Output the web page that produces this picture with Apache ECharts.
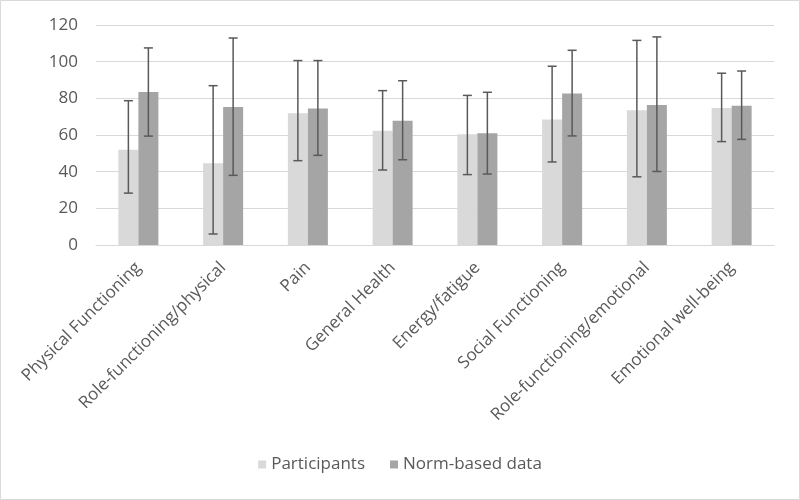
<!DOCTYPE html>
<html style="height: 100%">
    <head>
        <meta charset="utf-8">
    </head>
    <body style="height: 100%; margin: 0">
        <div id="container" style="width: 800px; height: 500px"></div>

        <script type="text/javascript" src="https://cdn.jsdelivr.net/npm/echarts@6/dist/echarts.min.js"></script>
        <script type="text/javascript">

var categories = ['Physical Functioning', 'Role-functioning/physical', 'Pain', 'General Health',
    'Energy/fatigue', 'Social Functioning', 'Role-functioning/emotional', 'Emotional well-being'];
var participantsMean = [52, 44.6, 71.8, 62.3, 60.4, 68.4, 73.5, 74.7];
var participantsLow = [28.3, 6, 46, 40.9, 38.4, 45.3, 37.2, 56.4];
var participantsHigh = [78.7, 86.9, 100.6, 84.2, 81.6, 97.5, 111.6, 93.7];
var normMean = [83.5, 75.3, 74.5, 67.8, 60.9, 82.7, 76.4, 76];
var normLow = [59.4, 38, 48.9, 46.5, 38.7, 59.5, 40.1, 57.6];
var normHigh = [107.5, 112.9, 100.6, 89.6, 83.3, 106.2, 113.5, 94.9];

var dom = document.getElementById('container');
var myChart = echarts.init(dom);

var textColor = '#595959';
var barPct = 0.236;

// error bars drawn per category, shifted to the centre of each bar
function errorSeries(low, high, side) {
    return {
        type: 'custom',
        silent: true,
        z: 10,
        data: low.map((l, i) => [i, l, high[i]]),
        renderItem: function (params, api) {
            var band = api.size([1, 0])[0];
            var dx = side * band * barPct / 2;
            var lo = api.coord([api.value(0), api.value(1)]);
            var hi = api.coord([api.value(0), api.value(2)]);
            var x = lo[0] + dx;
            var cap = 4.5;
            var style = { stroke: textColor, lineWidth: 1.5 };
            return {
                type: 'group',
                children: [
                    { type: 'line', shape: { x1: x, y1: lo[1], x2: x, y2: hi[1] }, style: style },
                    { type: 'line', shape: { x1: x - cap, y1: lo[1], x2: x + cap, y2: lo[1] }, style: style },
                    { type: 'line', shape: { x1: x - cap, y1: hi[1], x2: x + cap, y2: hi[1] }, style: style }
                ]
            };
        }
    };
}

option = {
    animation: false,
    textStyle: { fontFamily: 'Open Sans' },
    graphic: [{
        type: 'rect',
        silent: true,
        shape: { x: 0.5, y: 0.5, width: 799, height: 499 },
        style: { fill: null, stroke: '#d9d9d9', lineWidth: 1 }
    }],
    grid: { left: 96, right: 26, top: 25, bottom: 255 },
    legend: {
        bottom: 22,
        itemWidth: 8,
        itemHeight: 8,
        itemGap: 25,
        icon: 'rect',
        textStyle: { color: textColor, fontSize: 17 },
        data: ['Participants', 'Norm-based data']
    },
    xAxis: {
        type: 'category',
        data: categories,
        axisTick: { show: false },
        axisLine: { lineStyle: { color: '#d9d9d9' } },
        axisLabel: { rotate: 45, color: textColor, fontSize: 17, margin: 20, interval: 0 }
    },
    yAxis: {
        type: 'value',
        min: 0,
        max: 120,
        interval: 20,
        axisLabel: { color: textColor, fontSize: 17, margin: 18 },
        splitLine: { lineStyle: { color: '#d9d9d9' } }
    },
    series: [
        {
            name: 'Participants',
            type: 'bar',
            barWidth: '23.6%',
            barGap: '0%',
            itemStyle: { color: '#d9d9d9' },
            data: participantsMean
        },
        {
            name: 'Norm-based data',
            type: 'bar',
            barWidth: '23.6%',
            barGap: '0%',
            itemStyle: { color: '#a5a5a5' },
            data: normMean
        },
        errorSeries(participantsLow, participantsHigh, -1),
        errorSeries(normLow, normHigh, 1)
    ]
};

if (option && typeof option === 'object') {
    myChart.setOption(option);
}

        </script>
    </body>
</html>
